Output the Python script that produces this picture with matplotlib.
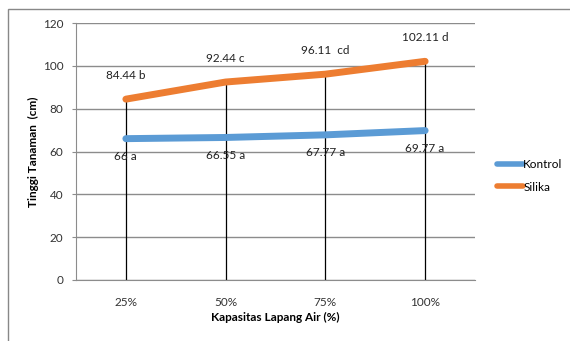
import matplotlib
matplotlib.use("Agg")
import matplotlib.pyplot as plt
from matplotlib.patches import Rectangle

categories = ["25%", "50%", "75%", "100%"]
kontrol = [66, 66.55, 67.77, 69.77]
silika = [84.44, 92.44, 96.11, 102.11]
kontrol_labels = ["66 a", "66.55 a", "67.77 a", "69.77 a"]
silika_labels = ["84.44 b", "92.44 c", "96.11  cd", "102.11 d"]
yticks = [0, 20, 40, 60, 80, 100, 120]

plt.rcParams["font.family"] = ["Lato", "DejaVu Sans"]

W, H = 570, 341
fig = plt.figure(figsize=(W / 100, H / 100), dpi=100)

# outer chart-area frame
fig.add_artist(Rectangle((8 / W, -0.1), 1.2, 1 - 9 / H + 0.1, transform=fig.transFigure,
                         fill=False, edgecolor="#888888", linewidth=1.0))

ax = fig.add_axes([76 / W, 1 - 280 / H, 399 / W, 257 / H])
x = list(range(len(categories)))

ax.set_xlim(-0.5, len(categories) - 0.5)
ax.set_ylim(0, 120)
ax.set_yticks(yticks)
ax.set_xticks(x)
ax.set_xticklabels(categories)
ax.grid(axis="y", color="#8c8c8c", linewidth=1.0)
ax.set_axisbelow(True)
for s in ["top", "right"]:
    ax.spines[s].set_visible(False)
for s in ["left", "bottom"]:
    ax.spines[s].set_color("#8c8c8c")
ax.tick_params(axis="y", length=3, color="#8c8c8c", labelsize=8.5, pad=6, labelcolor="#333333")
ax.tick_params(axis="x", length=0, labelsize=8.5, pad=12, labelcolor="#333333")

# drop lines from the upper series to the axis
ax.vlines(x, 0, silika, color="black", linewidth=0.9, zorder=2)

ax.plot(x, kontrol, color="#5B9BD5", linewidth=5, solid_capstyle="round", label="Kontrol", zorder=3)
ax.plot(x, silika, color="#ED7D31", linewidth=5, solid_capstyle="round", label="Silika", zorder=3)

for xi, v, t in zip(x, silika, silika_labels):
    ax.annotate(t, (xi, v), xytext=(0, 17), textcoords="offset points",
                ha="center", va="center", fontsize=8.5, color="#222222", zorder=4)
for xi, v, t in zip(x, kontrol, kontrol_labels):
    ax.annotate(t, (xi, v), xytext=(0, -13), textcoords="offset points",
                ha="center", va="center", fontsize=8.5, color="#222222", zorder=4)

ax.set_xlabel("Kapasitas Lapang Air (%)", fontsize=8.5, fontweight="bold", labelpad=3)
ax.set_ylabel("Tinggi Tanaman  (cm)", fontsize=8.5, fontweight="bold", labelpad=3)

leg = fig.legend(loc="upper left", bbox_to_anchor=(492 / W, 1 - 154 / H), frameon=False,
                 fontsize=8.5, handlelength=2.2, handletextpad=0.05, labelspacing=1.0,
                 borderaxespad=0)
for ln in leg.get_lines():
    ln.set_linewidth(4)

fig.savefig("out.png", dpi=100)
